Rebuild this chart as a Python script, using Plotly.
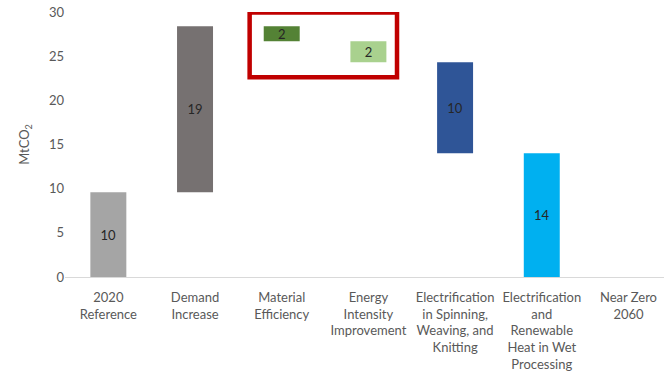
import plotly.graph_objects as go

categories = [
    "2020<br>Reference",
    "Demand<br>Increase",
    "Material<br>Efficiency",
    "Energy<br>Intensity<br>Improvement",
    "Electrification<br>in Spinning,<br>Weaving, and<br>Knitting",
    "Electrification<br>and<br>Renewable<br>Heat in Wet<br>Processing",
    "Near Zero<br>2060",
]
# step sizes (MtCO2); sign gives direction of the step
steps = [9.6, 18.8, -1.7, -2.4, -10.3, -14.0, 0.0]
colors = ["#A5A5A5", "#767171", "#548235", "#A9D18E", "#2F5597", "#00B0F0", "#FFFFFF"]
y_ticks = [0, 5, 10, 15, 20, 25, 30]

# floating bars: each step starts where the previous one ended
bases, heights, labels = [], [], []
level = 0.0
for s in steps:
    if s >= 0:
        bases.append(level)
    else:
        bases.append(level + s)
    heights.append(abs(s))
    labels.append(f"{abs(s):.0f}" if s != 0 else None)
    level += s

font = "Lato, Open Sans, sans-serif"

fig = go.Figure(
    go.Bar(
        x=list(range(len(categories))),
        y=heights,
        base=bases,
        marker=dict(color=colors, line=dict(width=0)),
        width=0.415,
        text=labels,
        textposition="inside",
        insidetextanchor="middle",
        textangle=0,
        constraintext="none",
        textfont=dict(family=font, size=13, color="#262626"),
        hoverinfo="skip",
    )
)

# highlight box around the efficiency steps
fig.add_shape(
    type="rect", xref="x", yref="y",
    x0=1.63, x1=3.33, y0=22.6, y1=29.95,
    line=dict(color="#C00000", width=4.5),
    fillcolor="rgba(0,0,0,0)",
)

fig.update_layout(
    width=664, height=372,
    margin=dict(l=65, r=0, t=12, b=95),
    plot_bgcolor="white", paper_bgcolor="white",
    showlegend=False,
    uniformtext=dict(minsize=13, mode="show"),
    font=dict(family=font, size=13, color="#595959"),
)
fig.update_xaxes(
    tickmode="array",
    tickvals=list(range(len(categories))),
    ticktext=categories,
    range=[-0.5, 6.41],
    showline=True, linecolor="#D9D9D9", linewidth=1,
    ticks="", showgrid=False, zeroline=False,
    ticklabelstandoff=8,
    tickfont=dict(family=font, size=13, color="#595959"),
)
fig.update_yaxes(
    range=[0, 30],
    tickvals=y_ticks,
    showgrid=False, zeroline=False, showline=False,
    ticks="", ticklen=0,
    tickfont=dict(family=font, size=13, color="#595959"),
    title=dict(text="MtCO<sub>2</sub>", font=dict(family=font, size=13, color="#595959"), standoff=16),
)

fig.write_html("out.html")
